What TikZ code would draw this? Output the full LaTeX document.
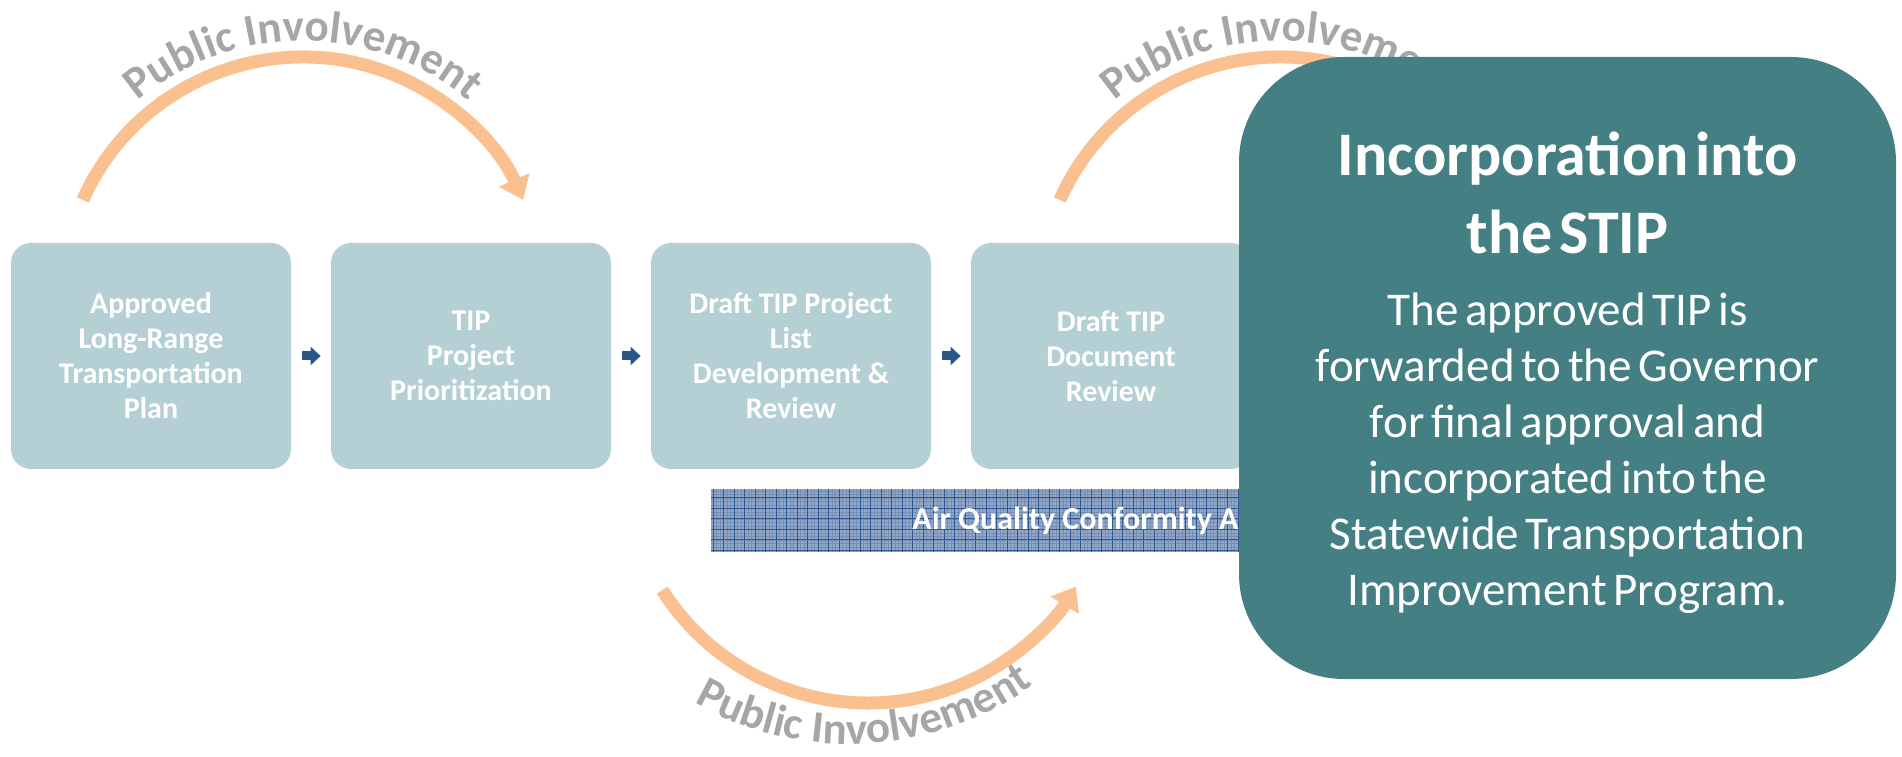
\documentclass[tikz,border=0pt]{standalone}
\usepackage{fontspec}
\setmainfont{Carlito}
\usetikzlibrary{arrows.meta,decorations.text}
\definecolor{boxteal}{RGB}{181,208,212}
\definecolor{stipteal}{RGB}{68,127,132}
\definecolor{flowblue}{RGB}{42,87,136}
\definecolor{involveorange}{RGB}{250,192,143}
\definecolor{involvegray}{RGB}{166,166,166}
\definecolor{aqfill}{RGB}{146,167,198}
\definecolor{aqline}{RGB}{48,88,148}
\definecolor{aqfine}{RGB}{118,143,182}
\tikzset{>=latex}

\begin{document}
\begin{tikzpicture}[x=0.5pt,y=0.5pt,
		stepbox/.style={fill=boxteal, rounded corners=10pt, minimum width=140pt, minimum height=113pt,
			text=white, align=center, inner sep=0pt, font=\fontsize{15pt}{17.5pt}\selectfont\bfseries},
		flow/.style={-{Triangle[length=5pt,width=9pt]}, flowblue, line width=4.5pt,
			shorten <=5.5pt, shorten >=5pt},
		involve/.style={-{Triangle[length=11pt,width=16pt]}, involveorange, line width=6.5pt},
		involvetext/.style={decorate, decoration={text along path, text align=center, text color=involvegray,
				text={|\fontsize{22.5pt}{22.5pt}\selectfont\bfseries|Public Involvement}}},
		aqband/.style={fill=aqfill, minimum width=409pt, minimum height=31.5pt, inner sep=0pt,
			text=white, font=\fontsize{16pt}{18pt}\selectfont\bfseries,
			path picture={
				\draw[aqfine, line width=0.15pt, step=1.75pt]
				(path picture bounding box.south west) grid (path picture bounding box.north east);
				\draw[aqline, line width=0.25pt, step=5.25pt]
				(path picture bounding box.south west) grid (path picture bounding box.north east);}},
		stipbox/.style={fill=stipteal, rounded corners=52.5pt, minimum width=328.5pt, minimum height=311pt},
		stiptext/.style={inner sep=0pt, text=white, text width=320pt, align=center},
	]
	\useasboundingbox (0,0) rectangle (1902,756);
	
	% public involvement loops
	\coordinate (pa) at (303,458);
	\coordinate (pb) at (1280,458);
	\coordinate (pc) at (868,297);
	\coordinate (pt) at (850,327);
	\foreach \c in {pa,pb}
	{
		\draw[involve] (\c) ++(156:241) arc[start angle=156, end angle=24, radius=241];
		\path[involvetext] (\c) ++(180:257) arc[start angle=180, end angle=0, radius=257];
	};
	\draw[involve] (pc) ++(212.5:244) arc[start angle=212.5, end angle=328.5, radius=244];
	\path[involvetext] (pt) ++(198:315) arc[start angle=198, end angle=348, radius=315];
	
	\foreach \n/\x/\txt in {b1/151/{Approved\\Long-Range\\Transportation\\Plan},
		b2/471/{TIP\\Project\\Prioritization},
		b3/791/{Draft TIP Project\\List\\Development \&\\Review},
		b4/1111/{Draft TIP\\Document\\Review}}
	{
		\node[stepbox] (\n) at (\x,400) {\txt};
	};
	\foreach \a/\b in {b1/b2,b2/b3,b3/b4}
		\draw[flow] (\a) -- (\b);
	
	\node[aqband] (aq) at (1120,235.5) {Air Quality Conformity Analysis};
	
	\node[stipbox] (stip) at (1567.5,388) {};
	\node[stiptext] (stiptxt) at ([yshift=-2.5pt]stip.center) {\fontsize{31pt}{39pt}\selectfont\bfseries
		Incorporation into\\the STIP\par
		\vspace{8pt}\fontsize{23.5pt}{28pt}\selectfont\mdseries
		The approved TIP is\\forwarded to the Governor\\for final approval and\\incorporated into the\\Statewide Transportation\\Improvement Program.\par};
\end{tikzpicture}
\end{document}
